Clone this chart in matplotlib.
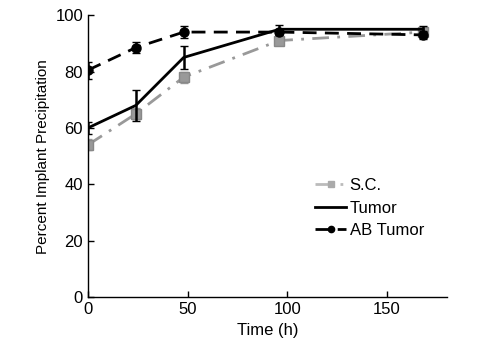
import matplotlib
matplotlib.use("Agg")
import matplotlib.pyplot as plt
from matplotlib.lines import Line2D

time_h = [0, 24, 48, 96, 168]
sc_vals = [54, 65, 78, 91, 94]
sc_err = [2, 2, 2, 1.5, 1]
tumor_vals = [60, 68, 85, 95, 95]
tumor_err = [2, 5.5, 4, 1.5, 1]
ab_vals = [80.5, 88.5, 94, 94, 93]
ab_err = [3, 2, 2, 1, 1.5]

xticks = [0, 50, 100, 150]
yticks = [0, 20, 40, 60, 80, 100]

plt.rcParams['font.family'] = ['Liberation Sans', 'DejaVu Sans']

fig = plt.figure(figsize=(4.78, 3.61), dpi=100)
ax = fig.add_axes([0.184, 0.177, 0.751, 0.781])

sc_ls = (0, (6, 3, 1, 3))
ab_ls = (0, (5, 3))
ax.errorbar(time_h, sc_vals, yerr=sc_err, color='#999999', linestyle=sc_ls,
            linewidth=2, marker='s', markersize=7, markerfacecolor='#999999',
            markeredgecolor='#888888', capsize=3, elinewidth=1.5, zorder=2)
ax.errorbar(time_h, tumor_vals, yerr=tumor_err, color='black', linestyle='-',
            linewidth=2, capsize=3, elinewidth=1.8, zorder=3)
ax.errorbar(time_h, ab_vals, yerr=ab_err, color='black', linestyle=ab_ls,
            linewidth=2, marker='o', markersize=6.5, capsize=3, elinewidth=1.8,
            zorder=4)

ax.set_xlim(0, 180)
ax.set_ylim(0, 100)
ax.set_xticks(xticks)
ax.set_yticks(yticks)
for s in ['top', 'right']:
    ax.spines[s].set_visible(False)
for s in ['left', 'bottom']:
    ax.spines[s].set_linewidth(1)
ax.tick_params(direction='in', length=4, labelsize=12, width=1)
ax.set_xlabel('Time (h)', fontsize=12)
ax.set_ylabel('Percent Implant Precipitation', fontsize=11)

handles = [
    Line2D([], [], color='#bbbbbb', linestyle=sc_ls, linewidth=2, marker='s',
           markersize=5, markerfacecolor='#aaaaaa', markeredgecolor='#aaaaaa'),
    Line2D([], [], color='black', linestyle='-', linewidth=2),
    Line2D([], [], color='black', linestyle=ab_ls, linewidth=2, marker='o', markersize=4.5),
]
labels = ['S.C.', 'Tumor', 'AB Tumor']
ax.legend(handles, labels, loc='center left', bbox_to_anchor=(0.59, 0.315), frameon=False,
          fontsize=12, handlelength=1.9, handletextpad=0.2, labelspacing=0.45)

fig.savefig('out.png', dpi=100)
